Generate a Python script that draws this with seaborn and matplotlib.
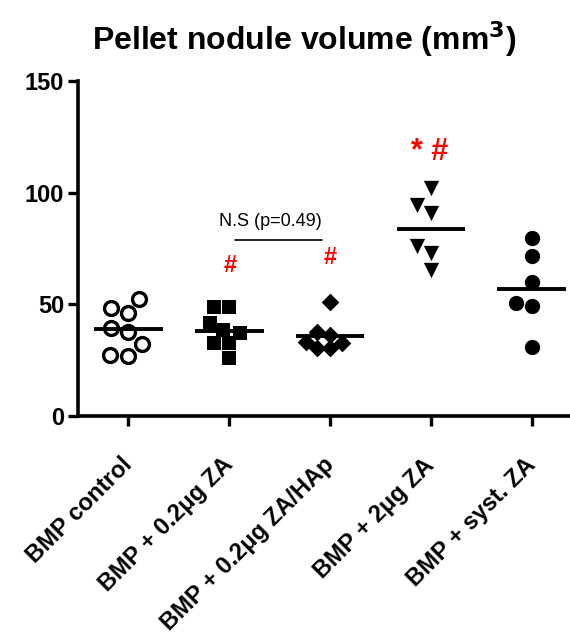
import numpy as np
import pandas as pd
import matplotlib
matplotlib.use("Agg")
import matplotlib.pyplot as plt
import matplotlib.transforms as mtransforms
import seaborn as sns

categories = ["BMP control", "BMP + 0.2\u03bcg ZA", "BMP + 0.2\u03bcg ZA/HAp",
              "BMP + 2\u03bcg ZA", "BMP + syst. ZA"]
bmp_control = [48.2, 52.4, 46.0, 39.3, 37.8, 32.1, 27.0, 27.3]
za_02 = [48.7, 48.7, 41.5, 38.5, 32.5, 37.3, 32.5, 25.8]
za_02_hap = [51.2, 36.3, 37.8, 32.5, 30.3, 30.3, 33.3]
za_2 = [102.0, 94.5, 90.8, 76.1, 72.9, 65.4]
syst_za = [79.8, 71.6, 59.9, 50.5, 49.4, 31.0]
yticks = [0, 50, 100, 150]

groups = [bmp_control, za_02, za_02_hap, za_2, syst_za]
markers = ["o", "s", "D", "v", "o"]
faces = ["white", "black", "black", "black", "black"]
sizes = [10, 10.5, 9, 11, 11]

sns.set_style("ticks")
plt.rcParams["font.family"] = ["Liberation Sans", "DejaVu Sans"]
plt.rcParams["text.color"] = "black"
plt.rcParams["xtick.color"] = "black"
plt.rcParams["ytick.color"] = "black"
plt.rcParams["axes.edgecolor"] = "black"

fig = plt.figure(figsize=(5.7, 6.37), dpi=100)
ax = fig.add_axes([0.137, 0.347, 0.863, 0.526])

for cat, vals, m, fc, s in zip(categories, groups, markers, faces, sizes):
    df = pd.DataFrame({"group": [cat] * len(vals), "value": vals})
    sns.swarmplot(data=df, x="group", y="value", order=categories, marker=m,
                  color=fc, edgecolor="black", linewidth=2.4 if fc == "white" else 0,
                  size=s, ax=ax, zorder=3)
    mean = np.mean(vals)
    i = categories.index(cat)
    ax.hlines(mean, i - 0.34, i + 0.34, color="black", lw=2.8, zorder=4)

ax.set_xlim(-0.5, 4.38)
ax.set_ylim(0, 150)
ax.set_yticks(yticks)
ax.set_yticklabels([str(t) for t in yticks], fontsize=17, fontweight="bold")
ax.set_xticks(range(len(categories)))
ax.set_xticklabels(categories, fontsize=17, fontweight="bold", rotation=45,
                   ha="right", va="top", rotation_mode="anchor")
ax.set_xlabel("")
ax.set_ylabel("")
for sp in ["top", "right"]:
    ax.spines[sp].set_visible(False)
for sp in ["left", "bottom"]:
    ax.spines[sp].set_linewidth(2.6)
ax.tick_params(axis="both", length=7, width=2.4, color="black", pad=3)
ax.tick_params(axis="x", pad=20)
shift = mtransforms.ScaledTranslation(-8 / 100, 0, fig.dpi_scale_trans)
for lab in ax.get_xticklabels():
    lab.set_transform(lab.get_transform() + shift)

ax.set_title("Pellet nodule volume (mm$^\\mathbf{3}$)", fontsize=23, fontweight="bold",
             pad=22, x=0.46, color="black")

red = "#ff0000"
ax.text(1.01, 67.2, "#", color=red, fontsize=17, fontweight="bold", ha="center", va="center")
ax.text(2.0, 70.8, "#", color=red, fontsize=17, fontweight="bold", ha="center", va="center")
ax.text(2.99, 118, "* #", color=red, fontsize=22, fontweight="bold", ha="center", va="center")
ax.plot([1.06, 1.92], [78.8, 78.8], color="black", lw=1.2)
ax.text(1.41, 87, "N.S (p=0.49)", fontsize=13, ha="center", va="center")

fig.savefig("out.png", dpi=100)
